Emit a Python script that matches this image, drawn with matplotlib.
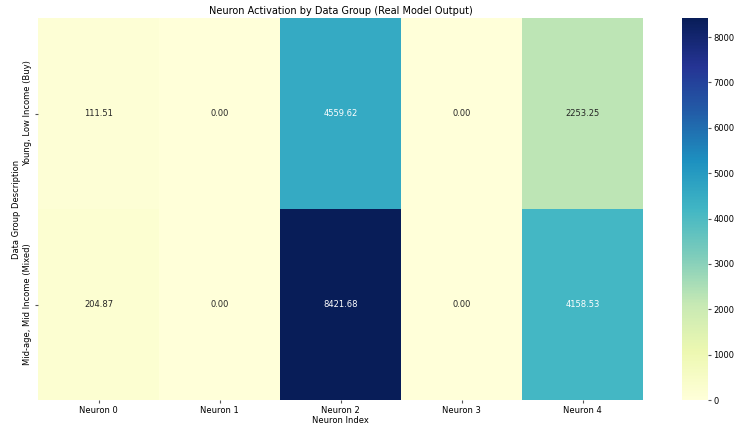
import numpy as np
import pandas as pd
import seaborn as sns
import matplotlib.pyplot as plt

# activations
groups = ['Young, Low Income (Buy)', 'Mid-age, Mid Income (Mixed)']
neurons = ['Neuron 0', 'Neuron 1', 'Neuron 2', 'Neuron 3', 'Neuron 4']
young_low = [111.51, 0.00, 4559.62, 0.00, 2253.25]
mid_mid = [204.87, 0.00, 8421.68, 0.00, 4158.53]

df = pd.DataFrame([young_low, mid_mid], index=groups, columns=neurons)

plt.rcParams['font.size'] = 6
fig = plt.figure(figsize=(7.52, 4.30), dpi=100)
ax = fig.add_axes([38 / 752, 1 - 400 / 430, 605 / 752, 382 / 430])
cax = fig.add_axes([682 / 752, 1 - 400 / 430, 26 / 752, 382 / 430])

sns.heatmap(df, annot=True, fmt='.2f', cmap='YlGnBu', ax=ax, cbar_ax=cax,
            annot_kws={'size': 6})

ax.set_title('Neuron Activation by Data Group (Real Model Output)', fontsize=7, pad=3)
ax.set_xlabel('Neuron Index', fontsize=6, labelpad=1)
ax.set_ylabel('Data Group Description', fontsize=6, labelpad=2)
ax.tick_params(labelsize=6, length=2, pad=2, color='#555555')
cax.tick_params(labelsize=6, length=2, pad=2, color='#555555')

fig.savefig('out.png', dpi=100)
